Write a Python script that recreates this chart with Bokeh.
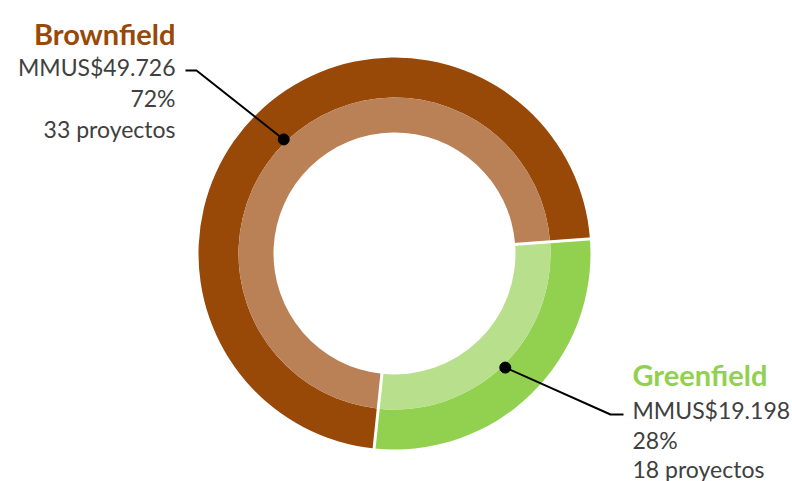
import numpy as np
from bokeh.plotting import figure
from bokeh.models import Range1d, ColumnDataSource
from bokeh.core.properties import value
from bokeh.embed import file_html
from bokeh.resources import INLINE

# ---- data ----
categories = ["Brownfield", "Greenfield"]
amounts = [49.726, 19.198]            # MMUS$
amount_labels = ["MMUS$49.726", "MMUS$19.198"]
pct_labels = ["72%", "28%"]
project_labels = ["33 proyectos", "18 proyectos"]
outer_colors = ["#984807", "#92D050"]
inner_colors = ["#B98155", "#B7DF8C"]
title_colors = ["#984807", "#92D050"]

W, H = 792, 481
p = figure(width=W, height=H, output_backend="svg", toolbar_location=None,
           x_range=Range1d(0, W), y_range=Range1d(0, H), min_border=0)
p.axis.visible = False
p.grid.visible = False
p.outline_line_color = None
p.background_fill_color = "white"

cx, cy = 394, 228
r_hole, r_mid, r_out = 121, 156, 196

amounts_arr = np.array(amounts)
frac = amounts_arr / amounts_arr.sum()
start0 = np.deg2rad(4.3)
# Greenfield runs clockwise from start0, Brownfield takes the rest
g_start = start0 - frac[1] * 2 * np.pi
b_start = start0
b_end = start0 + frac[0] * 2 * np.pi
starts = [b_start, g_start]
ends = [b_end, start0]
mids = [(s + e) / 2 for s, e in zip(starts, ends)]

src = ColumnDataSource(dict(start=starts, end=ends, outer=outer_colors, inner=inner_colors,
                            x=[cx, cx], y=[cy, cy]))
p.annular_wedge(x="x", y="y", inner_radius=r_mid, outer_radius=r_out,
                start_angle="start", end_angle="end", fill_color="outer",
                line_color=None, source=src)
p.annular_wedge(x="x", y="y", inner_radius=r_hole, outer_radius=r_mid,
                start_angle="start", end_angle="end", fill_color="inner",
                line_color=None, source=src)

# white separators
bounds = [start0, g_start]
p.segment(x0=[cx + (r_hole - 2) * np.cos(a) for a in bounds],
          y0=[cy + (r_hole - 2) * np.sin(a) for a in bounds],
          x1=[cx + (r_out + 2) * np.cos(a) for a in bounds],
          y1=[cy + (r_out + 2) * np.sin(a) for a in bounds],
          line_color="white", line_width=3)

# leader dots
r_dot = 159
dx = [cx + r_dot * np.cos(a) for a in mids]
dy = [cy + r_dot * np.sin(a) for a in mids]

# leader lines
p.line(x=[dx[0], 196, 185], y=[dy[0], 411, 411], line_color="black", line_width=2)
p.line(x=[dx[1], 610, 623], y=[dy[1], 67, 67], line_color="black", line_width=2)
p.scatter(x=dx, y=dy, size=11, color="black")

font = value("Lato")
body = "#404040"
# Brownfield label (right aligned)
p.text(x=[175], y=[448], text=[categories[0]], text_font=font, text_font_size="29px",
       text_font_style="bold", text_color=title_colors[0], text_align="right",
       text_baseline="alphabetic")
p.text(x=[175, 175, 175], y=[415, 384, 353],
       text=[amount_labels[0], pct_labels[0], project_labels[0]],
       text_font=font, text_font_size="23px", text_color=body, text_align="right",
       text_baseline="alphabetic")
# Greenfield label (left aligned)
p.text(x=[632], y=[107], text=[categories[1]], text_font=font, text_font_size="29px",
       text_font_style="bold", text_color=title_colors[1], text_align="left",
       text_baseline="alphabetic")
p.text(x=[632, 632, 632], y=[72, 42, 13],
       text=[amount_labels[1], pct_labels[1], project_labels[1]],
       text_font=font, text_font_size="23px", text_color=body, text_align="left",
       text_baseline="alphabetic")

open("out.html", "w").write(file_html(p, INLINE))
